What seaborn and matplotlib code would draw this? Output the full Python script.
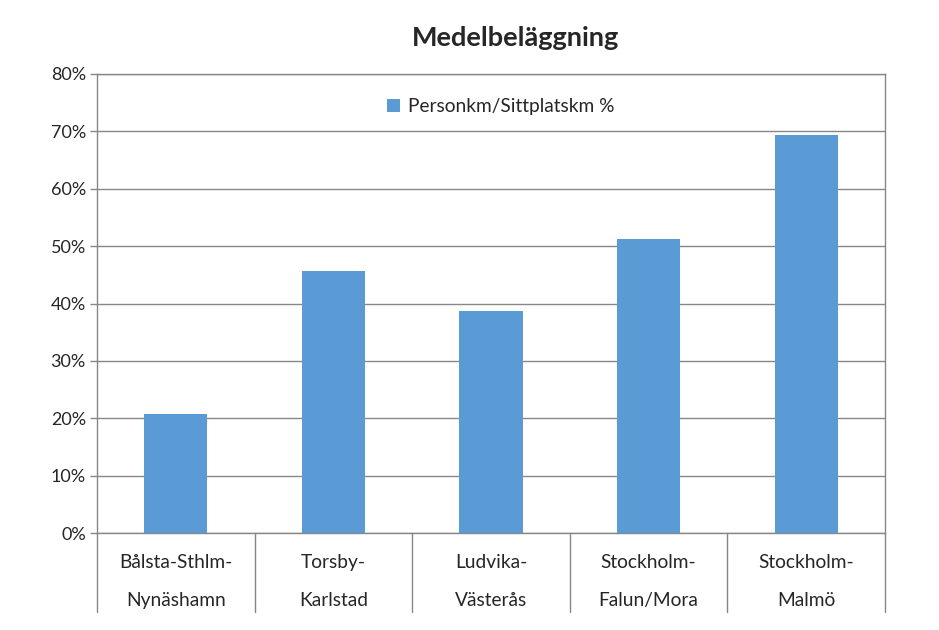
import numpy as np
import matplotlib.pyplot as plt
import matplotlib.transforms as mtransforms
import seaborn as sns
import pandas as pd

# data
routes_line1 = ["Bålsta-Sthlm-", "Torsby-", "Ludvika-", "Stockholm-", "Stockholm-"]
routes_line2 = ["Nynäshamn", "Karlstad", "Västerås", "Falun/Mora", "Malmö"]
occupancy = [20.8, 45.7, 38.7, 51.3, 69.3]
series_name = "Personkm/Sittplatskm %"

sns.set_style("white")
plt.rcParams["font.family"] = ["Lato", "DejaVu Sans"]

df = pd.DataFrame({"route": [a + b for a, b in zip(routes_line1, routes_line2)],
                   "value": occupancy})

fig = plt.figure(figsize=(9.39, 6.30), dpi=100)
ax = fig.add_axes([97 / 939, 1 - 533 / 630, 788 / 939, 459 / 630])

sns.barplot(data=df, x="route", y="value", color="#5B9BD5", width=0.4,
            saturation=1, ax=ax, label=series_name, zorder=3, linewidth=0)

ax.set_ylim(0, 80)
ax.set_xlim(-0.5, len(occupancy) - 0.5)
ax.set_yticks(np.arange(0, 81, 10))
ax.set_yticklabels([f"{v}%" for v in range(0, 81, 10)], fontsize=13)
ax.yaxis.grid(True, color="#878787", linewidth=1, zorder=0)
ax.tick_params(axis="y", length=5, width=1, color="#878787", left=True, pad=3)
ax.set_xticks([])
ax.set_xlabel("")
ax.set_ylabel("")
for s in ax.spines.values():
    s.set_color("#878787")
    s.set_linewidth(1)

# two-row category labels with separators below the axis
trans = mtransforms.blended_transform_factory(ax.transData, ax.transAxes)
for i, (a, b) in enumerate(zip(routes_line1, routes_line2)):
    ax.text(i, -0.065, a, transform=trans, ha="center", va="center", fontsize=13.8)
    ax.text(i, -0.148, b, transform=trans, ha="center", va="center", fontsize=13.8)
for bnd in np.arange(-0.5, len(occupancy), 1):
    ax.plot([bnd, bnd], [0, -0.172], transform=trans, color="#878787",
            linewidth=1, clip_on=False)

ax.legend(loc="upper center", bbox_to_anchor=(0.512, 0.985), frameon=False,
          fontsize=13.8, handlelength=0.7, handleheight=0.7, handletextpad=0.4)

fig.text(515 / 939, 1 - 38 / 630, "Medelbeläggning", ha="center", va="center",
         fontsize=19.5, fontweight="bold")

fig.savefig("out.png", dpi=100, facecolor="white")
